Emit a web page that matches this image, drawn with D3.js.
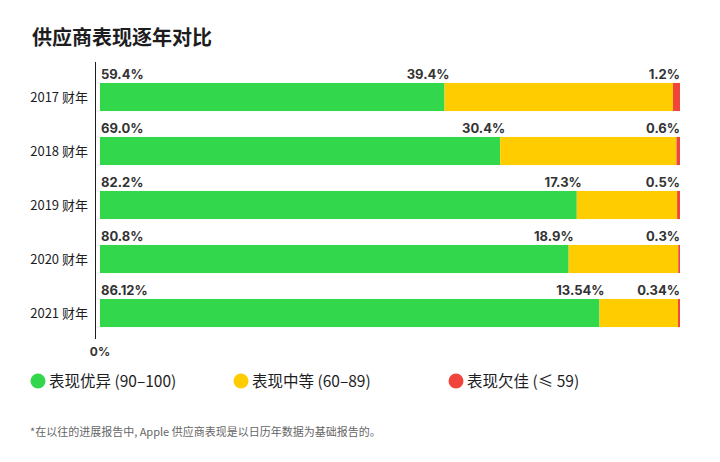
<!DOCTYPE html>
<html>
<head>
<meta charset="utf-8">
<script src="https://cdn.jsdelivr.net/npm/d3@7"></script>
<style>
  body { margin: 0; background: #fff; font-family: "Noto Sans CJK SC", "Noto Sans", sans-serif; }
</style>
</head>
<body>
<div id="chart"></div>
<script>
const years = ["2017 财年", "2018 财年", "2019 财年", "2020 财年", "2021 财年"];
const excellent = [59.4, 69.0, 82.2, 80.8, 86.12];
const moderate = [39.4, 30.4, 17.3, 18.9, 13.54];
const poor = [1.2, 0.6, 0.5, 0.3, 0.34];
const excellentLabels = ["59.4%", "69.0%", "82.2%", "80.8%", "86.12%"];
const moderateLabels = ["39.4%", "30.4%", "17.3%", "18.9%", "13.54%"];
const poorLabels = ["1.2%", "0.6%", "0.5%", "0.3%", "0.34%"];
const legendNames = ["表现优异 (90–100)", "表现中等 (60–89)", "表现欠佳 (≤ 59)"];

const width = 720, height = 462;
const colors = ["#32d74b", "#ffcc00", "#f0453a"];

const svg = d3.select("#chart").append("svg")
  .attr("width", width)
  .attr("height", height);

svg.append("text")
  .attr("x", 32).attr("y", 45)
  .attr("font-size", 20).attr("font-weight", 700)
  .attr("fill", "#1d1d1f")
  .text("供应商表现逐年对比");

const x = d3.scaleLinear().domain([0, 100]).range([100, 680]);
const y = d3.scaleBand().domain(years).range([70, 340]).paddingInner(0.48).paddingOuter(0.24);

const rows = years.map((yr, i) => ({
  year: yr,
  parts: [excellent[i], moderate[i], poor[i]],
  labels: [excellentLabels[i], moderateLabels[i], poorLabels[i]]
}));

// axis line
svg.append("line")
  .attr("x1", 95.5).attr("x2", 95.5)
  .attr("y1", 62).attr("y2", 339)
  .attr("stroke", "#1d1d1f").attr("stroke-width", 1);

const g = svg.selectAll("g.row")
  .data(rows)
  .enter().append("g").attr("class", "row");

g.each(function(d) {
  const sel = d3.select(this);
  let acc = 0;
  d.parts.forEach((v, j) => {
    sel.append("rect")
      .attr("x", x(acc))
      .attr("y", y(d.year))
      .attr("width", x(acc + v) - x(acc))
      .attr("height", y.bandwidth())
      .attr("fill", colors[j]);
    acc += v;
  });

  const ly = y(d.year) - 4;
  sel.append("text").attr("x", x(0) + 1).attr("y", ly)
    .attr("text-anchor", "start").text(d.labels[0]);
  sel.append("text").attr("x", x(d.parts[0]) + 5).attr("y", ly)
    .attr("text-anchor", "end").text(d.labels[1]);
  sel.append("text").attr("x", x(100)).attr("y", ly)
    .attr("text-anchor", "end").text(d.labels[2]);

  sel.append("text")
    .attr("x", 88).attr("y", y(d.year) + y.bandwidth() / 2 + 4.5)
    .attr("text-anchor", "end")
    .attr("font-size", 13).attr("font-weight", 400)
    .attr("fill", "#1d1d1f")
    .text(d.year);
});

g.selectAll("text").filter(function() { return !this.getAttribute("font-size"); })
  .attr("font-size", 13).attr("font-weight", 700)
  .attr("fill", "#333")
  .attr("font-family", "Inter, 'Noto Sans', sans-serif");

svg.append("text")
  .attr("x", x(0)).attr("y", 356)
  .attr("text-anchor", "middle")
  .attr("font-size", 12).attr("font-weight", 700)
  .attr("fill", "#333")
  .attr("font-family", "Inter, 'Noto Sans', sans-serif")
  .text("0%");

const legendX = [38, 241, 456];
const lg = svg.selectAll("g.legend")
  .data(legendNames)
  .enter().append("g")
  .attr("transform", (d, i) => `translate(${legendX[i]}, 381)`);
lg.append("circle").attr("r", 7.5).attr("fill", (d, i) => colors[i]);
lg.append("text")
  .attr("x", 11).attr("y", 5.5)
  .attr("font-size", 15.5)
  .attr("fill", "#1d1d1f")
  .text(d => d);

svg.append("text")
  .attr("x", 30).attr("y", 436)
  .attr("font-size", 11)
  .attr("fill", "#666")
  .text("*在以往的进展报告中, Apple 供应商表现是以日历年数据为基础报告的。");
</script>
</body>
</html>
